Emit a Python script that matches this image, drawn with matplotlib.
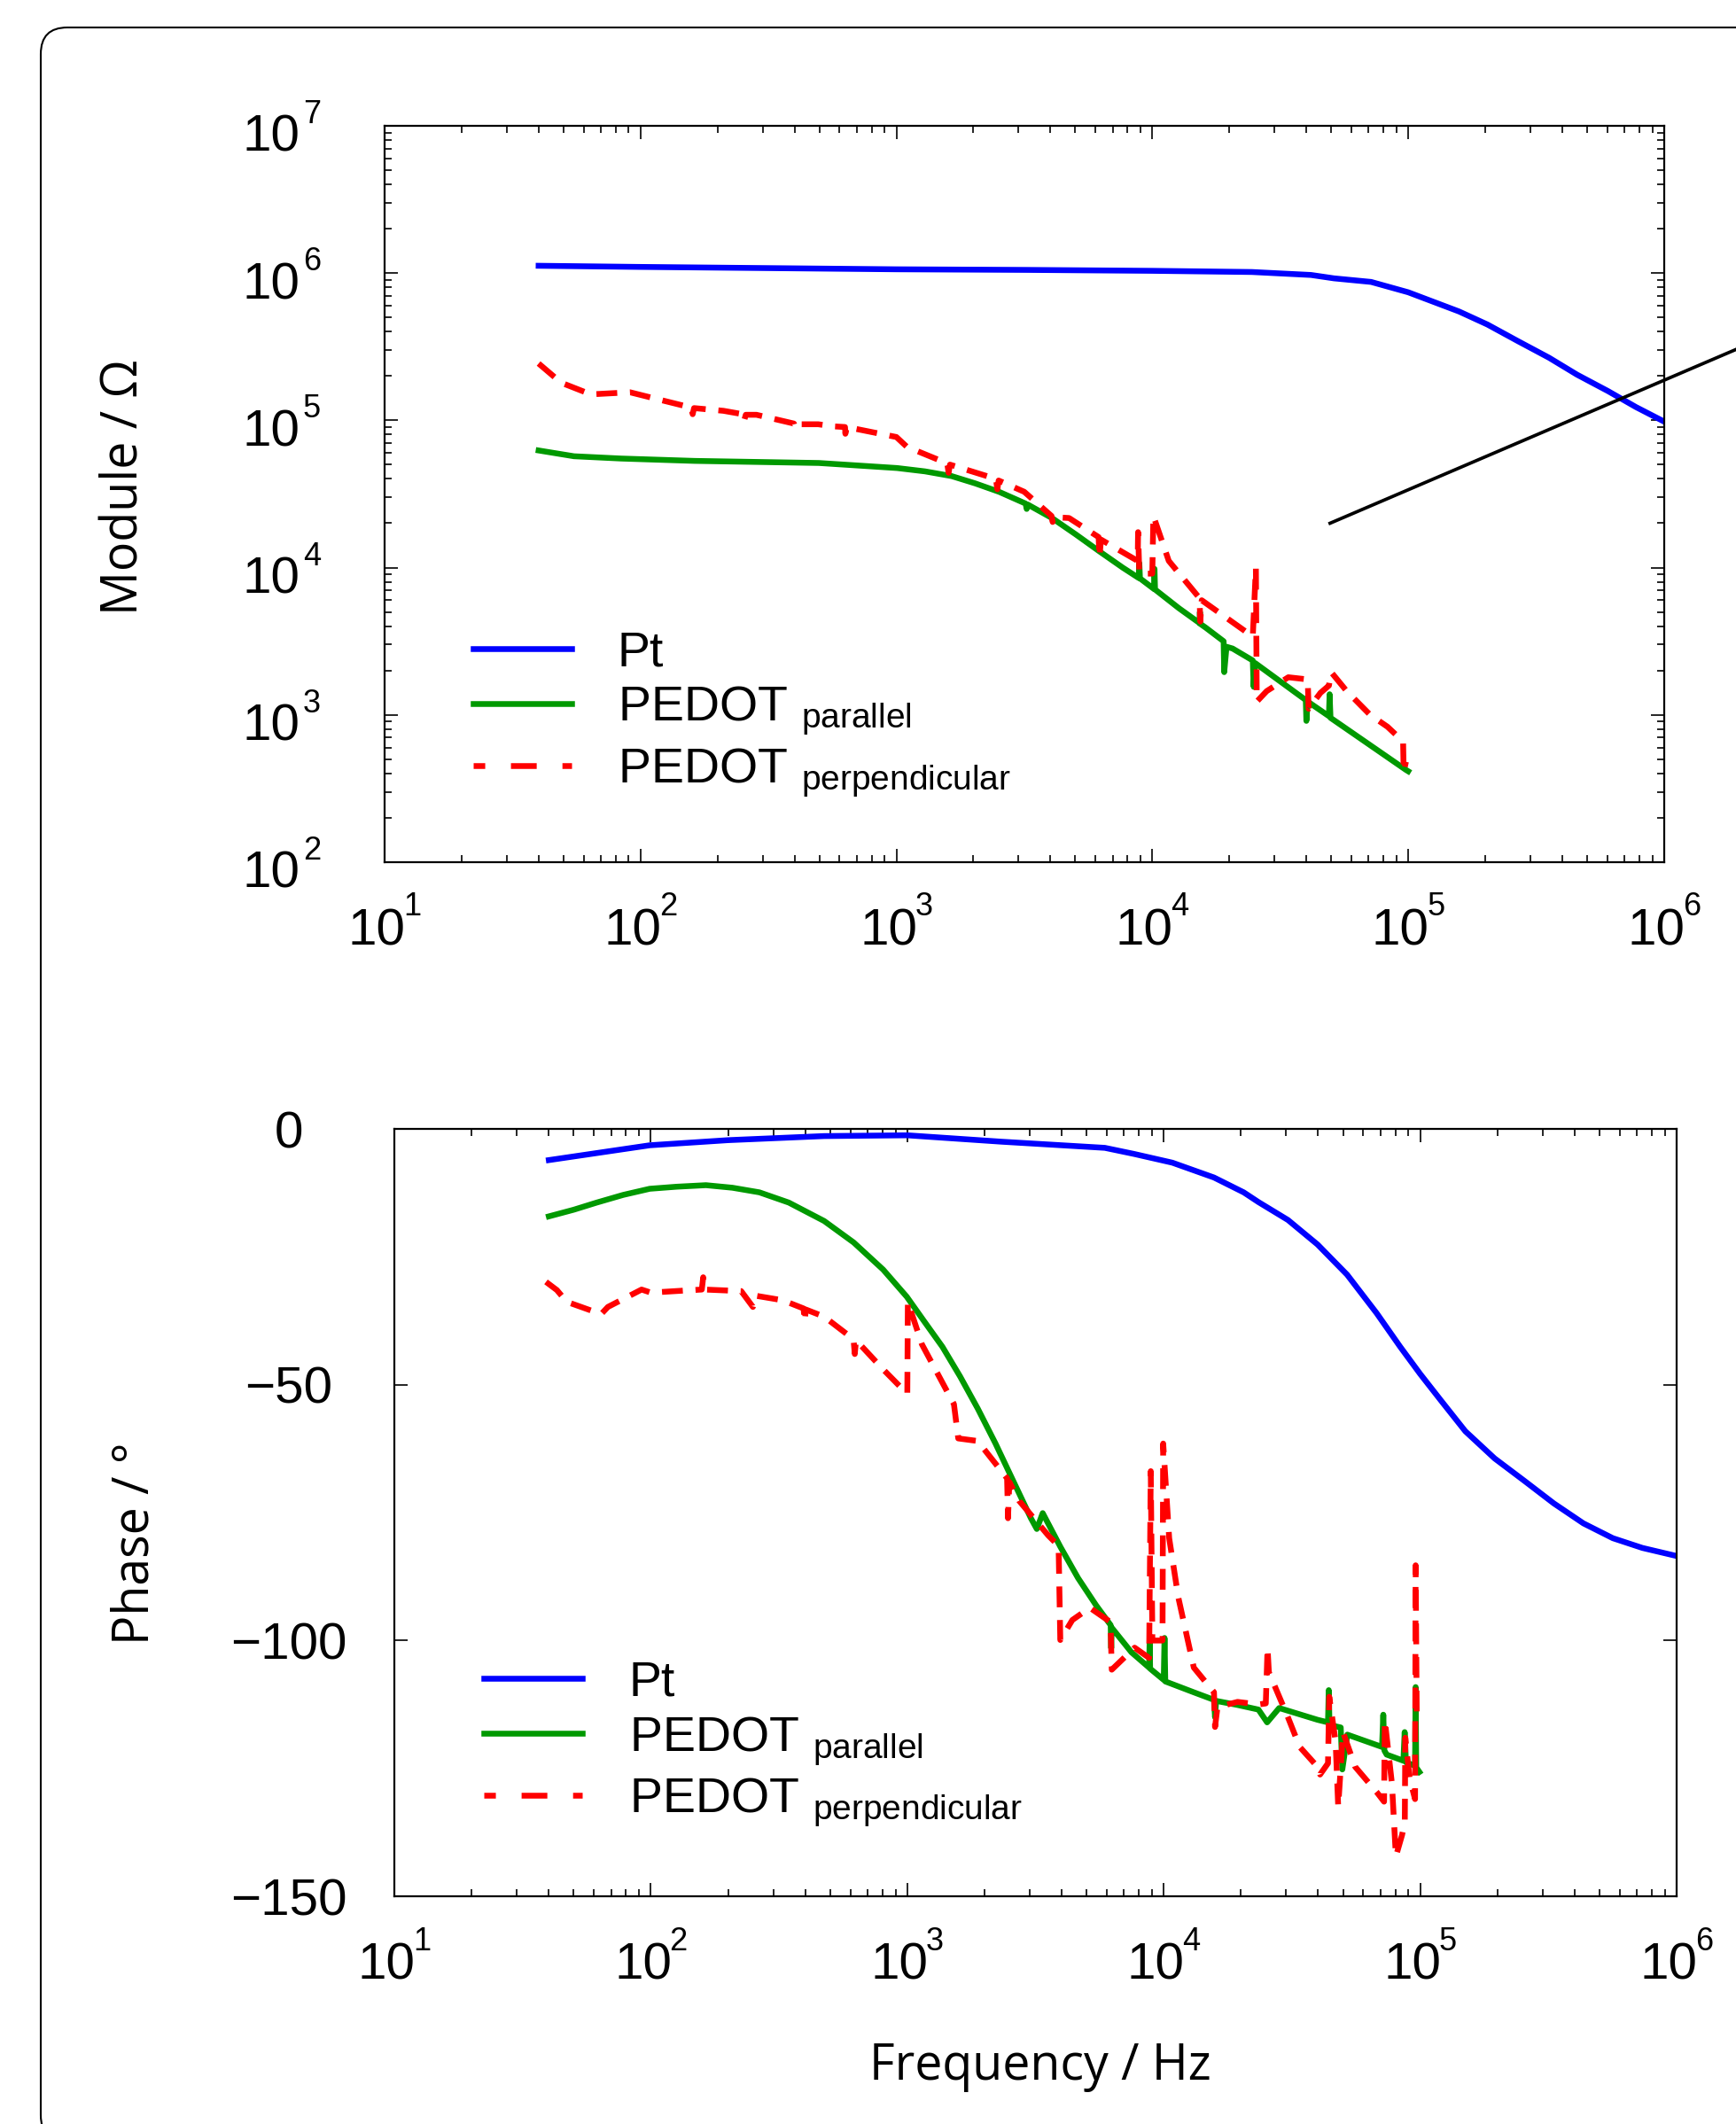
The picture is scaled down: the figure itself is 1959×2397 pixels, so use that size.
import matplotlib
matplotlib.use('Agg')
import matplotlib.pyplot as plt
from matplotlib.lines import Line2D
from matplotlib.patches import FancyBboxPatch
from matplotlib.transforms import IdentityTransform, ScaledTranslation
from matplotlib.ticker import NullFormatter, NullLocator

plt.rcParams['font.family'] = ['Liberation Sans', 'DejaVu Sans']
plt.rcParams['mathtext.fontset'] = 'custom'
plt.rcParams['mathtext.rm'] = 'Liberation Sans'
plt.rcParams['mathtext.it'] = 'Liberation Sans:italic'
plt.rcParams['mathtext.bf'] = 'Liberation Sans:bold'

# ---- module (|Z|) data ----
f_pt_mod = [40, 100, 1000, 3200, 1e4, 2.45e4, 4.17e4, 5.13e4, 7.16e4, 1e5, 1.58e5, 2.04e5,
            2.69e5, 3.55e5, 4.57e5, 6.03e5, 7.76e5, 1e6]
z_pt_mod = [1.12e6, 1.10e6, 1.06e6, 1.05e6, 1.035e6, 1.016e6, 9.7e5, 9.2e5, 8.7e5, 7.4e5, 5.48e5, 4.47e5,
            3.44e5, 2.66e5, 2.04e5, 1.58e5, 1.23e5, 9.8e4]

f_par_mod = [40, 55, 84, 163, 498, 1007, 1294, 1644, 2032, 2518, 3199, 3230, 3260, 4055, 5023, 6209,
             7674, 8850, 8900, 8950, 10160, 10200, 10250, 12700, 15300, 15350, 15400, 16200,
             19000, 19100, 19500, 20600, 24700, 24900, 25200, 39800, 40000, 40500,
             49000, 49300, 49700, 98000, 100000]
z_par_mod = [6.24e4, 5.7e4, 5.5e4, 5.3e4, 5.13e4, 4.74e4, 4.5e4, 4.18e4, 3.73e4, 3.27e4, 2.72e4, 2.5e4, 2.68e4,
             2.17e4, 1.68e4, 1.29e4, 9.98e3, 8.5e3, 1.07e4, 8.45e3, 7.15e3, 9.8e3, 7.1e3, 5.3e3,
             4.2e3, 5.0e3, 4.15e3, 3.9e3, 3.16e3, 1.95e3, 2.9e3, 2.82e3, 2.34e3, 1.55e3, 2.25e3,
             1.26e3, 910, 1.23e3, 980, 1.38e3, 955, 423, 414]

f_perp_mod = [40, 49, 64, 91, 125, 158, 160, 162, 211, 251, 254, 258, 284, 398, 402, 406, 495,
              566, 630, 632, 640, 1000, 1100, 1580, 1600, 1620, 2450, 2480, 2510, 3160,
              4040, 4080, 4120, 4730, 6170, 6220, 6300, 8770, 8800, 8900, 10000, 10100,
              11600, 15300, 15400, 15600, 24700, 25400, 25600, 28000, 34000, 40500, 40800,
              45400, 49000, 50000, 57500, 71000, 83000, 95500, 96000, 98000]
z_perp_mod = [2.43e5, 1.8e5, 1.5e5, 1.55e5, 1.35e5, 1.22e5, 1.1e5, 1.21e5, 1.16e5, 1.1e5, 9.9e4, 1.09e5, 1.09e5,
              9.5e4, 8.9e4, 9.4e4, 9.4e4, 9.1e4, 9.0e4, 8.1e4, 9.0e4, 7.7e4, 6.6e4, 5.1e4, 4.4e4, 5.0e4,
              4.0e4, 3.4e4, 3.9e4, 3.27e4, 2.24e4, 2.04e4, 2.2e4, 2.17e4, 1.61e4, 1.17e4, 1.55e4,
              1.11e4, 1.74e4, 9.1e3, 9.1e3, 2.24e4, 1.11e4, 6.2e3, 4.3e3, 6.0e3, 3.4e3, 1.0e4, 1.23e3,
              1.45e3, 1.8e3, 1.74e3, 1.1e3, 1.41e3, 1.58e3, 1.95e3, 1.45e3, 1.0e3, 830, 660, 410, 480]

guide_f = [4.95e4, 2.5e6]
guide_z = [2.0e4, 3.7e5]

# ---- phase data ----
f_pt_ph = [40, 99, 200, 474, 1000, 2330, 5890, 7670, 10800, 15700, 20500, 23400, 30500, 39800,
           51900, 67600, 83600, 1e5, 1.21e5, 1.5e5, 1.95e5, 2.55e5, 3.32e5, 4.33e5, 5.64e5, 7.35e5, 9.84e5]
ph_pt = [-6.1, -3.2, -2.2, -1.4, -1.25, -2.5, -3.7, -4.9, -6.6, -9.5, -12.4, -14.3, -17.8, -22.6,
         -28.5, -36.0, -42.6, -47.9, -53.2, -59.1, -64.4, -68.8, -73.2, -77.1, -80.0, -81.9, -83.4]

f_par_ph = [40, 50, 61.5, 78, 99, 126, 164, 208, 265, 345, 474, 618, 805, 995, 1167, 1371, 1607,
            1884, 2208, 2588, 3034, 3199, 3373, 3954, 4634, 5445, 6209, 6240, 6270, 7482, 8770, 8810,
            8850, 10000, 10070, 10140, 13060, 15700, 15850, 16000, 19400, 23400, 25300, 28200,
            39800, 43700, 44000, 44300, 49000, 49700, 52000, 71000, 71800, 72500, 74000, 86000,
            87000, 88000, 95500, 96000, 96500, 99300]
ph_par = [-17.1, -15.8, -14.4, -12.9, -11.7, -11.3, -11.0, -11.5, -12.4, -14.4, -18.0, -22.2, -27.5,
          -32.8, -37.7, -42.6, -48.4, -54.7, -61.5, -68.8, -76.1, -78.2, -75.1, -81.7, -87.8, -93.1,
          -97.0, -101.5, -97.5, -102.3, -105.3, -100, -105.5, -107.7, -99.5, -108, -110.1, -111.6,
          -115, -111.8, -112.6, -113.5, -116, -113.2, -115.5, -116, -109.7, -116.5, -117, -125.2,
          -118.4, -120.8, -114.5, -121.5, -122.3, -123.5, -117.9, -123.8, -124.5, -109.1, -124.8, -125.7]

f_perp_ph = [39, 43, 47, 64, 68, 92, 100, 135, 158, 160, 162, 225, 250, 256, 327, 394, 398, 402, 474,
             617, 624, 631, 805, 1000, 1005, 1140, 1520, 1580, 1880, 2450, 2470, 2500, 2730, 3550,
             3890, 3950, 4400, 5150, 6200, 6270, 7700, 8770, 8900, 9030, 9890, 9950, 10500, 11400,
             13100, 15700, 15850, 16200, 19400, 23400, 25000, 25400, 25700, 30500, 33900, 39800,
             40700, 43700, 44200, 46800, 47900, 50000, 55800, 67600, 72300, 72800, 77600, 80400,
             85000, 87100, 87500, 91000, 95500, 96000, 97000]
ph_perp = [-29.9, -31.5, -33.8, -36.2, -34.8, -31.4, -32, -31.6, -31.4, -29, -31.4, -31.7, -34.8, -32.6, -33.5,
           -35.1, -37.7, -35.3, -36.7, -41.1, -44, -41.3, -47, -51.8, -33.8, -42.1, -53.8, -60.5, -61,
           -68.3, -76.1, -69, -72.7, -79.5, -81.5, -99.9, -96, -93.6, -96.4, -105.7, -101.4, -103.4,
           -66.9, -100, -100, -61.5, -80, -91.6, -105.3, -110.1, -116.9, -113, -112, -112.5, -112.3,
           -101.4, -106.2, -115, -120.8, -124.7, -126.2, -124, -111, -119.8, -132.5, -117.9, -124.7,
           -129.6, -131.5, -115.6, -128, -142.2, -138, -135.4, -119, -127, -131, -85.3, -116]

x_ticks = [1e1, 1e2, 1e3, 1e4, 1e5, 1e6]
x_exps = ['1', '2', '3', '4', '5', '6']
mod_ticks = [1e2, 1e3, 1e4, 1e5, 1e6, 1e7]
mod_exps = ['2', '3', '4', '5', '6', '7']
ph_ticks = [0, -50, -100, -150]
ph_labels = ['0', '\u221250', '\u2212100', '\u2212150']
legend_labels = ['Pt', r'PEDOT $\mathregular{_{parallel}}$', r'PEDOT $\mathregular{_{perpendicular}}$']

BLUE = '#0000ff'
GREEN = '#009900'
RED = '#ff0000'
LW = 4.7
DASH = (3.6, 2.2)
TICK_FS = 42
SUP_FS = 26

fig = plt.figure(figsize=(19.59, 23.97), dpi=100)
ax1 = fig.add_axes([0.2215, 0.5941, 0.7371, 0.3467])
ax2 = fig.add_axes([0.2272, 0.1072, 0.7386, 0.3613])

# top: module
ax1.plot(f_pt_mod, z_pt_mod, color=BLUE, lw=LW)
ax1.plot(f_par_mod, z_par_mod, color=GREEN, lw=LW)
ax1.plot(f_perp_mod, z_perp_mod, color=RED, lw=LW, dashes=DASH)
ax1.plot(guide_f, guide_z, color='black', lw=2.7, clip_on=False)
ax1.set_xscale('log')
ax1.set_yscale('log')
ax1.set_xlim(1e1, 1e6)
ax1.set_ylim(1e2, 1e7)
ax1.set_yticks(mod_ticks, labels=['10'] * len(mod_ticks))

# bottom: phase
ax2.plot(f_pt_ph, ph_pt, color=BLUE, lw=LW)
ax2.plot(f_par_ph, ph_par, color=GREEN, lw=LW)
ax2.plot(f_perp_ph, ph_perp, color=RED, lw=LW, dashes=DASH)
ax2.set_xscale('log')
ax2.set_xlim(1e1, 1e6)
ax2.set_ylim(-150, 0)
ax2.set_yticks(ph_ticks, labels=ph_labels)
ax2.yaxis.set_minor_locator(NullLocator())


def shift(labels, dx_px, dy_px):
    for lab in labels:
        lab.set_transform(lab.get_transform() +
                          ScaledTranslation(dx_px / 100, dy_px / 100, fig.dpi_scale_trans))


for ax, ypad in ((ax1, 92), (ax2, 86)):
    ax.set_xticks(x_ticks, labels=['10'] * len(x_ticks))
    ax.xaxis.set_minor_formatter(NullFormatter())
    ax.yaxis.set_minor_formatter(NullFormatter())
    ax.tick_params(which='both', direction='in', top=True, right=True, width=1.2,
                   labelsize=TICK_FS, colors='black')
    ax.tick_params(which='major', length=11)
    ax.tick_params(which='minor', length=5.5)
    ax.tick_params(axis='x', which='major', pad=37)
    ax.tick_params(axis='y', which='major', pad=ypad)
    for lab in ax.get_yticklabels():
        lab.set_horizontalalignment('center')
        lab.set_verticalalignment('center_baseline')
    shift(ax.get_xticklabels(), -9, 0)
    for sp in ax.spines.values():
        sp.set_linewidth(1.6)
    # exponents of the x tick labels
    for t, e in zip(x_ticks, x_exps):
        ax.annotate(e, xy=(t, 0), xycoords=ax.get_xaxis_transform(), xytext=(21, -33.5),
                    textcoords='offset pixels', ha='left', va='top', fontsize=SUP_FS,
                    annotation_clip=False)

shift(ax1.get_yticklabels(), 0, -8)
for t, e in zip(mod_ticks, mod_exps):
    ax1.annotate(e, xy=(0, t), xycoords=ax1.get_yaxis_transform(), xytext=(-92, 30),
                 textcoords='offset pixels', ha='left', va='top', fontsize=SUP_FS,
                 annotation_clip=False)


# legends
def make_handles():
    return [Line2D([], [], color=BLUE, lw=LW),
            Line2D([], [], color=GREEN, lw=LW),
            Line2D([], [], color=RED, lw=LW, linestyle=(2.45, (4.45, 4.45)))]


for ax, anchor in ((ax1, (0.069, 0.315)), (ax2, (0.070, 0.308))):
    ax.legend(make_handles(), legend_labels, loc='upper left', bbox_to_anchor=anchor,
              frameon=False, fontsize=40, handlelength=2.0, handletextpad=0.94,
              labelspacing=0.18, borderpad=0, borderaxespad=0)

label_font = ['Open Sans', 'DejaVu Sans']
fig.text(0.072, 0.7706, 'Module / \u03a9', rotation=90, ha='center', va='center',
         fontsize=40, family=label_font)
fig.text(0.078, 0.2733, 'Phase / \u00b0', rotation=90, ha='center', va='center',
         fontsize=40, family=label_font)
fig.text(0.599, 0.0271, 'Frequency / Hz', ha='center', va='center',
         fontsize=40, family=label_font)

# rounded frame around the panel (runs off the right and bottom edges)
frame = FancyBboxPatch((46, -20), 2300, 2386, boxstyle='round,pad=0,rounding_size=30',
                       transform=IdentityTransform(), fill=False, lw=1.5, edgecolor='black')
fig.add_artist(frame)

fig.savefig('out.png', dpi=100)
